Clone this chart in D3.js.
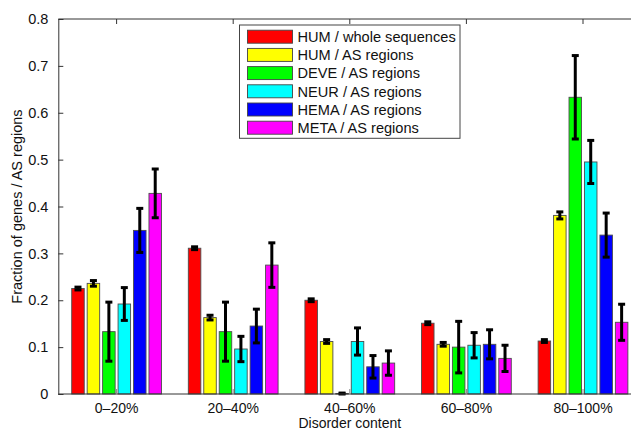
<!DOCTYPE html>
<html>
<head>
<meta charset="utf-8">
<script src="https://cdn.jsdelivr.net/npm/d3@7"></script>
<style>
  body { margin: 0; background: #fff; }
  text { font-family: "Liberation Sans", Arial, sans-serif; }
</style>
</head>
<body>
<script>
// categories on the x axis
var groups = ["0–20%", "20–40%", "40–60%", "60–80%", "80–100%"];

// one entry per series (legend order)
var seriesNames = ["HUM / whole sequences", "HUM / AS regions", "DEVE / AS regions",
                   "NEUR / AS regions", "HEMA / AS regions", "META / AS regions"];
var seriesColours = ["#ff0000", "#ffff00", "#00ff00", "#00ffff", "#0000ff", "#ff00ff"];

// values, one array per series, one value per group
var humWhole = [0.225, 0.311, 0.200, 0.151, 0.113];
var humAS    = [0.236, 0.163, 0.112, 0.106, 0.381];
var deveAS   = [0.133, 0.133, 0.001, 0.100, 0.633];
var neurAS   = [0.192, 0.096, 0.112, 0.104, 0.495];
var hemaAS   = [0.349, 0.145, 0.058, 0.106, 0.339];
var metaAS   = [0.428, 0.275, 0.066, 0.076, 0.153];

// half-length of the error bars
var humWholeErr = [0.003, 0.003, 0.003, 0.003, 0.003];
var humASErr    = [0.006, 0.005, 0.004, 0.004, 0.0075];
var deveASErr   = [0.063, 0.063, 0.001, 0.055, 0.089];
var neurASErr   = [0.035, 0.027, 0.029, 0.027, 0.046];
var hemaASErr   = [0.047, 0.036, 0.024, 0.031, 0.047];
var metaASErr   = [0.052, 0.0475, 0.026, 0.028, 0.0385];

var yTicks = [0, 0.1, 0.2, 0.3, 0.4, 0.5, 0.6, 0.7, 0.8];

function init(){
    var w = 631;
    var h = 430;
    var left = 58.3, top = 19, bottom = 394;
    var right = left + 5 * 116.6; // plot runs past the picture edge

    var values = [humWhole, humAS, deveAS, neurAS, hemaAS, metaAS];
    var errors = [humWholeErr, humASErr, deveASErr, neurASErr, hemaASErr, metaASErr];

    var svg = d3.select("body")
                .append("svg")
                .attr("width", w)
                .attr("height", h);

    var x = d3.scaleBand()
              .domain(groups)
              .range([left, right])
              .padding(0);

    var inner = d3.scaleBand()
              .domain(d3.range(seriesNames.length))
              .range([0, 92.7])
              .paddingInner(0.19)
              .paddingOuter(0.095);

    var y = d3.scaleLinear()
              .domain([0, 0.8])
              .range([bottom, top]);

    // flatten into one row per bar
    var bars = [];
    groups.forEach(function(g, gi){
        seriesNames.forEach(function(s, si){
            bars.push({group: g, series: si, value: values[si][gi], err: errors[si][gi]});
        });
    });

    function barX(d){
        return x(d.group) + x.bandwidth() / 2 - 92.7 / 2 + inner(d.series);
    }

    svg.selectAll("rect.bar")
        .data(bars)
        .enter()
        .append("rect")
        .attr("class", "bar")
        .attr("x", barX)
        .attr("width", inner.bandwidth())
        .attr("y", function(d){ return y(d.value); })
        .attr("height", function(d){ return y(0) - y(d.value); })
        .attr("fill", function(d){ return seriesColours[d.series]; })
        .attr("stroke", "#4d4d4d")
        .attr("stroke-width", 0.9);

    // error bars
    var eb = svg.selectAll("g.err")
        .data(bars)
        .enter()
        .append("g")
        .attr("class", "err")
        .attr("transform", function(d){ return "translate(" + (barX(d) + inner.bandwidth() / 2) + ",0)"; })
        .attr("stroke", "#000")
        .attr("stroke-width", 3);

    eb.append("line")
        .attr("y1", function(d){ return y(d.value + d.err); })
        .attr("y2", function(d){ return y(d.value - d.err); });
    eb.append("line")
        .attr("x1", -3.5).attr("x2", 3.5)
        .attr("y1", function(d){ return y(d.value + d.err); })
        .attr("y2", function(d){ return y(d.value + d.err); });
    eb.append("line")
        .attr("x1", -3.5).attr("x2", 3.5)
        .attr("y1", function(d){ return y(d.value - d.err); })
        .attr("y2", function(d){ return y(d.value - d.err); });

    // axes frame (no right edge visible)
    var axisCol = "#333";
    svg.append("line").attr("x1", left).attr("x2", w + 20).attr("y1", top).attr("y2", top)
        .attr("stroke", axisCol).attr("stroke-width", 1);
    svg.append("line").attr("x1", left).attr("x2", w + 20).attr("y1", bottom).attr("y2", bottom)
        .attr("stroke", axisCol).attr("stroke-width", 1);

    // y axis, ticks inside
    var yAxis = d3.axisLeft(y)
        .tickValues(yTicks)
        .tickSize(-5)
        .tickPadding(10)
        .tickFormat(function(d){ return d === 0 ? "0" : d3.format(".1f")(d); });
    var gy = svg.append("g")
        .attr("transform", "translate(" + left + ",0)")
        .call(yAxis);
    gy.select(".domain").attr("stroke", axisCol);
    gy.selectAll(".tick line").attr("stroke", axisCol);
    gy.selectAll("text").attr("font-size", 14.5).attr("fill", "#111")
        .attr("font-family", "Liberation Sans, Arial, sans-serif");

    // x axis at bottom, ticks inside
    var xAxis = d3.axisBottom(x).tickSize(-5).tickPadding(9);
    var gx = svg.append("g")
        .attr("transform", "translate(0," + bottom + ")")
        .call(xAxis);
    gx.select(".domain").remove();
    gx.selectAll(".tick line").attr("stroke", "#888");
    gx.selectAll("text").attr("font-size", 14).attr("fill", "#111")
        .attr("font-family", "Liberation Sans, Arial, sans-serif");

    // top ticks pointing down
    var gt = svg.append("g")
        .attr("transform", "translate(0," + top + ")")
        .call(d3.axisTop(x).tickSize(-5).tickFormat(""));
    gt.select(".domain").remove();
    gt.selectAll(".tick line").attr("stroke", axisCol);

    // axis titles
    svg.append("text")
        .attr("x", (left + right) / 2)
        .attr("y", 428)
        .attr("text-anchor", "middle")
        .attr("font-size", 14)
        .attr("fill", "#111")
        .text("Disorder content");

    svg.append("text")
        .attr("transform", "translate(22," + ((top + bottom) / 2) + ") rotate(-90)")
        .attr("text-anchor", "middle")
        .attr("font-size", 14.5)
        .attr("fill", "#111")
        .text("Fraction of genes / AS regions");

    // legend
    var lg = svg.append("g").attr("transform", "translate(239.5,25)");
    lg.append("rect")
        .attr("width", 220.5)
        .attr("height", 113.3)
        .attr("fill", "#fff")
        .attr("stroke", "#444")
        .attr("stroke-width", 1);

    var items = lg.selectAll("g.item")
        .data(seriesNames)
        .enter()
        .append("g")
        .attr("class", "item")
        .attr("transform", function(d, i){ return "translate(0," + (11.7 + i * 18.2) + ")"; });

    items.append("rect")
        .attr("x", 8)
        .attr("y", -6.5)
        .attr("width", 45)
        .attr("height", 13)
        .attr("fill", function(d, i){ return seriesColours[i]; })
        .attr("stroke", "#444")
        .attr("stroke-width", 0.9);

    items.append("text")
        .attr("x", 58)
        .attr("y", 5.2)
        .attr("font-size", 14.6)
        .attr("fill", "#111")
        .text(function(d){ return d; });
}
window.onload = init;
</script>
</body>
</html>
